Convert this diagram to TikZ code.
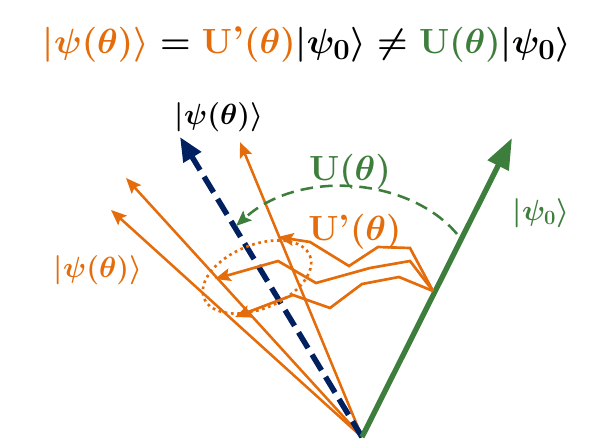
\documentclass[tikz,border=0pt]{standalone}
\usepackage{amsmath,amssymb}
\usetikzlibrary{arrows.meta}

\definecolor{qorange}{RGB}{228,108,10}
\definecolor{qgreen}{RGB}{62,126,60}
\definecolor{qnavy}{RGB}{0,32,96}

\begin{document}
\begin{tikzpicture}[x=0.025cm,y=-0.025cm]
    \tikzstyle{ray}=[qorange, line width=1.8pt, -{Stealth[length=11pt,width=9pt,inset=2pt]}]
    \tikzstyle{walk}=[qorange, line width=1.9pt, -{Stealth[length=11pt,width=9pt,inset=2pt]}]
    \tikzstyle{big}=[inner sep=0pt, font=\fontsize{26}{30}\selectfont\boldmath]
    \tikzstyle{small}=[inner sep=0pt, font=\fontsize{20}{24}\selectfont\boldmath]

    \useasboundingbox (0,0) rectangle (606,441);

    % vectors
    \coordinate (o)  at (362,437);
    \coordinate (g)  at (512,138);
    \coordinate (n)  at (180,137);
    \coordinate (r1) at (240,142);
    \coordinate (r2) at (126,178);
    \coordinate (r3) at (111,210);

    \draw[ray] (o) -- (r1);
    \draw[ray] (o) -- (r2);
    \draw[ray] (o) -- (r3);
    \draw[qnavy, line width=3.9pt, dash pattern=on 13pt off 5.5pt,
          -{Triangle[length=17pt,width=14pt]}] (o) -- (n);
    \draw[qgreen, line width=3.8pt, -{Triangle[length=22pt,width=16pt]}] (o) -- (g);

    % noisy paths
    \coordinate (s)  at (433,291);
    \coordinate (t1) at (278,237);
    \coordinate (t2) at (215,279);
    \coordinate (t3) at (235,317);
    \draw[walk] (s) -- (410,248) -- (378,247) -- (349,266) -- (310,242) -- (t1);
    \draw[walk] (s) -- (410,261) -- (370,268) -- (316,283) -- (278,261) -- (t2);
    \draw[walk] (s) -- (399,277) -- (362,284) -- (330,308) -- (293,295) -- (t3);

    \draw[qorange, line width=1.9pt, dash pattern=on 1.9pt off 2.6pt,
          rotate around={22:(257,277)}] (257,277) ellipse (57 and 32);

    % ideal rotation
    \coordinate (a0) at (457,234);
    \coordinate (a1) at (236,226);
    \draw[qgreen, line width=1.8pt, dash pattern=on 9pt off 5pt,
          -{Stealth[length=11pt,width=9pt,inset=2pt]}]
          (a0) .. controls (410,178) and (300,168) .. (a1);

    % labels
    \node[big, font=\fontsize{27.5}{32}\selectfont\boldmath] (eq) at (307,44)
          {$\color{qorange}|\psi(\theta)\rangle\color{black}
          = \color{qorange}\mathbf{U}\text{\bfseries'}(\theta)\color{black}|\psi_0\rangle
          \neq \color{qgreen}\mathbf{U}(\theta)\color{black}|\psi_0\rangle$};
    \node[small] (kn) at (219,117) {$|\psi(\theta)\rangle$};
    \node[small, qorange] (ko) at (98,270) {$|\psi(\theta)\rangle$};
    \node[small, qgreen] (kg) at (541,213) {$|\psi_0\rangle$};
    \node[big, qgreen] (ug) at (350,172) {$\mathbf{U}(\theta)$};
    \node[big, qorange] (uo) at (355,232) {$\mathbf{U}\text{\bfseries'}(\theta)$};
\end{tikzpicture}
\end{document}
